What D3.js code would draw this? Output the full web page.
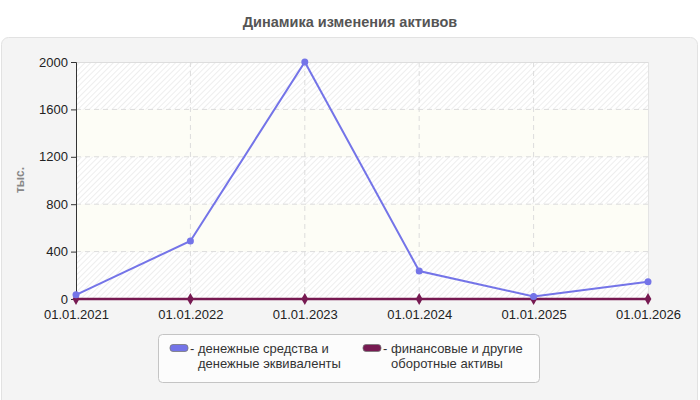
<!DOCTYPE html>
<html><head><meta charset="utf-8">
<script src="https://cdn.jsdelivr.net/npm/d3@7"></script>
<style>body{margin:0;background:#fff;}svg{display:block;font-family:"Liberation Sans",Arial,sans-serif;}</style>
</head><body><svg id="c" width="700" height="400"></svg>
<script>
const categories = ["01.01.2021","01.01.2022","01.01.2023","01.01.2024","01.01.2025","01.01.2026"];
const cashValues = [35, 490, 2000, 236, 22, 145];
const otherValues = [0, 0, 0, 0, 0, 0];
const yTicks = [0, 400, 800, 1200, 1600, 2000];
const seriesNames = [["денежные средства и","денежные эквиваленты"],["финансовые и другие","оборотные активы"]];
const title = "Динамика изменения активов";
const yLabel = "тыс.";

const svg = d3.select("#c");
const defs = svg.append("defs");
const pat = defs.append("pattern").attr("id","hatch").attr("patternUnits","userSpaceOnUse")
  .attr("width",4).attr("height",4).attr("patternTransform","rotate(45)");
pat.append("rect").attr("width",4).attr("height",4).attr("fill","#ffffff");
pat.append("line").attr("x1",0).attr("y1",0).attr("x2",0).attr("y2",4).attr("stroke","#e6e6e6").attr("stroke-width",1.3);

svg.append("text").attr("x",350).attr("y",27).attr("text-anchor","middle")
  .attr("font-size",14.5).attr("font-weight","bold").attr("fill","#555").text(title);

svg.append("rect").attr("x",1.5).attr("y",37.5).attr("width",696).attr("height",370).attr("rx",7)
  .attr("fill","#f4f4f4").attr("stroke","#e2e2e2");

const L=76,R=648,T=62,B=299;
const x = d3.scalePoint().domain(categories).range([L,R]);
const y = d3.scaleLinear().domain([0,2000]).range([B,T]);

// bands
for(let i=0;i<yTicks.length-1;i++){
  svg.append("rect").attr("x",L).attr("y",y(yTicks[i+1])).attr("width",R-L).attr("height",y(yTicks[i])-y(yTicks[i+1]))
    .attr("fill", i%2===0 ? "url(#hatch)" : "#fdfdf6");
}
// grid
svg.append("g").selectAll("line").data(yTicks.slice(1,-1)).join("line")
  .attr("x1",L).attr("x2",R).attr("y1",d=>y(d)).attr("y2",d=>y(d))
  .attr("stroke","#dcdcdc").attr("stroke-dasharray","5,4");
svg.append("g").selectAll("line").data(categories.slice(1,-1)).join("line")
  .attr("x1",d=>x(d)).attr("x2",d=>x(d)).attr("y1",T).attr("y2",B)
  .attr("stroke","#dcdcdc").attr("stroke-dasharray","5,4");
svg.append("line").attr("x1",L).attr("x2",R).attr("y1",T+0.5).attr("y2",T+0.5).attr("stroke","#dddddd");
svg.append("line").attr("x1",R+0.5).attr("x2",R+0.5).attr("y1",T).attr("y2",B).attr("stroke","#e4e4e4");

// axes
const ya = svg.append("g").attr("transform",`translate(${L},0)`)
  .call(d3.axisLeft(y).tickValues(yTicks).tickFormat(d3.format("d")).tickSize(5).tickPadding(3));
ya.select(".domain").attr("stroke","#333");
ya.selectAll(".tick line").attr("stroke","#333");
ya.selectAll("text").attr("font-size",13).attr("fill","#222").attr("font-family","Liberation Sans, Arial, sans-serif");
const xa = svg.append("g").attr("transform",`translate(0,${B})`)
  .call(d3.axisBottom(x).tickSize(4).tickPadding(7));
xa.select(".domain").attr("stroke","#333");
xa.selectAll(".tick line").attr("stroke","#333");
xa.selectAll("text").attr("font-size",13).attr("fill","#222").attr("font-family","Liberation Sans, Arial, sans-serif");

svg.append("text").attr("transform","translate(24,180) rotate(-90)").attr("text-anchor","middle")
  .attr("font-size",12).attr("font-weight","bold").attr("fill","#888").text(yLabel);

const line = d3.line().x((d,i)=>x(categories[i])).y(d=>y(d));
const cBlue="#7474e8", cPurple="#771a52";
svg.append("path").datum(otherValues).attr("d",line).attr("fill","none").attr("stroke",cPurple).attr("stroke-width",2.5);
svg.append("g").selectAll("path").data(otherValues).join("path")
  .attr("d",d3.symbol(d3.symbolDiamond,40)).attr("transform",(d,i)=>`translate(${x(categories[i])},${y(d)})`).attr("fill",cPurple);
svg.append("path").datum(cashValues).attr("d",line).attr("fill","none").attr("stroke",cBlue).attr("stroke-width",2);
svg.append("g").selectAll("circle").data(cashValues).join("circle")
  .attr("cx",(d,i)=>x(categories[i])).attr("cy",d=>y(d)).attr("r",3.5).attr("fill",cBlue);

// legend
svg.append("rect").attr("x",158.5).attr("y",334.5).attr("width",381).attr("height",48).attr("rx",4)
  .attr("fill","#fcfcfc").attr("stroke","#c4c4c4");
const lx=[170,363], colors=[cBlue,cPurple];
seriesNames.forEach((nm,i)=>{
  svg.append("rect").attr("x",lx[i]).attr("y",344.5).attr("width",18).attr("height",7).attr("rx",3)
    .attr("fill",colors[i]).attr("stroke","#777").attr("stroke-width",0.8);
  const t = svg.append("text").attr("x",lx[i]+20).attr("y",353).attr("font-size",13).attr("fill","#333");
  t.append("tspan").text("- "+nm[0]);
  t.append("tspan").attr("x",lx[i]+28).attr("dy",14.5).text(nm[1]);
});
</script></body></html>
